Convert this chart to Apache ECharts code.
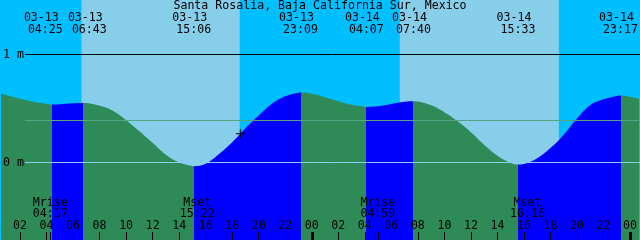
<!DOCTYPE html>
<html><head><meta charset="utf-8">
<script src="https://cdn.jsdelivr.net/npm/echarts@6/dist/echarts.min.js"></script>
<style>html,body{margin:0;padding:0;background:#00BFFF;overflow:hidden}#main{width:640px;height:240px}</style>
</head><body><div id="main"></div>
<script>
// ---- data (hours counted from 03-13 00:00 local time) ----
const title = 'Santa Rosalia, Baja California Sur, Mexico';
const tideHours = [0,1,2,3,4,5,6,7,8,9,10,11,12,13,14,15,16,17,18,19,20,21,22,23,24,25,26,27,28,29,30,31,32,33,34,35,36,37,38,39,40,41,42,43,44,45,46,47,48,49];
const tideLevels = [0.656,0.623,0.591,0.563,0.544,0.540,0.549,0.550,0.526,0.480,0.392,0.290,0.183,0.072,0.001,-0.032,-0.012,0.078,0.188,0.318,0.435,0.544,0.614,0.646,0.637,0.605,0.568,0.535,0.517,0.521,0.542,0.562,0.564,0.530,0.466,0.382,0.281,0.165,0.063,-0.004,-0.014,0.040,0.134,0.258,0.408,0.531,0.586,0.616,0.609,0.581];
const eventHours = [4.417, 6.717, 15.1, 23.15, 28.117, 31.667, 39.55, 47.283];
const eventLevels = [0.537, 0.552, -0.034, 0.648, 0.515, 0.567, -0.019, 0.620];
const eventKinds = ['low','high','low','high','low','high','low','high'];
const eventDates = ['03-13','03-13','03-13','03-13','03-14','03-14','03-14','03-14'];
const eventTimes = ['04:25','06:43','15:06','23:09','04:07','07:40','15:33','23:17'];
const moonHours = [4.283, 15.367, 28.983, 40.267];
const moonNames = ['Mrise','Mset','Mrise','Mset'];
const moonTimes = ['04:17','15:22','04:59','16:16'];
const sunriseHours = [6.633, 30.633];
const sunsetHours = [18.567, 42.633];
const tickHours = [2,4,6,8,10,12,14,16,18,20,22,24,26,28,30,32,34,36,38,40,42,44,46,48];
const tickLabels = ['02','04','06','08','10','12','14','16','18','20','22','00','02','04','06','08','10','12','14','16','18','20','22','00'];
const midnightHours = [24, 48];
const datumLevels = [0, 1];
const datumLabels = ['0 m', '1 m'];
const meanLevel = 0.389;
const nowPoint = [18.62, 0.268];
const windowStart = 0.64, windowEnd = 48.64;
const levelMin = -0.71759, levelMax = 1.50463;

// ---- build ----
const FONT = '"DejaVu Sans Mono", "Liberation Mono", monospace';
const FS = 11.6;
const tidePoints = tideHours.map((h, i) => [h, tideLevels[i]])
  .concat(eventHours.map((h, i) => [h, eventLevels[i]]))
  .sort((a, b) => a[0] - b[0]);
const floodRanges = [];
eventHours.forEach((h, i) => {
  if (eventKinds[i] === 'low' && i + 1 < eventHours.length) floodRanges.push([h, eventHours[i + 1]]);
});
const dayRanges = sunriseHours.map((h, i) => [h, sunsetHours[i]]);

const chart = echarts.init(document.getElementById('main'), null, {renderer: 'canvas'});
const option = {
  animation: false,
  backgroundColor: '#00BFFF',
  grid: [
    {left: 0, right: 0, top: 0, bottom: 0},
    {left: 25, right: 0, top: 0, bottom: 0}
  ],
  xAxis: [
    {gridIndex: 0, type: 'value', min: windowStart, max: windowEnd, position: 'bottom', z: 20,
     axisLine: {show: false, onZero: false}, splitLine: {show: false},
     axisTick: {inside: true, length: 8, lineStyle: {color: '#000', width: 1}, customValues: tickHours.concat(moonHours)},
     axisLabel: {inside: true, customValues: tickHours, margin: 14, verticalAlign: 'middle', color: '#000',
       fontFamily: FONT, fontSize: FS, formatter: v => tickLabels[tickHours.indexOf(v)]}},
    {gridIndex: 0, type: 'value', min: windowStart, max: windowEnd, position: 'bottom', offset: 0, z: 20,
     axisLine: {show: false, onZero: false}, splitLine: {show: false}, axisLabel: {show: false},
     axisTick: {inside: true, length: 8, lineStyle: {color: '#000', width: 3}, customValues: midnightHours}},
    {gridIndex: 1, type: 'value', min: windowStart, max: windowEnd, show: false}
  ],
  yAxis: [
    {gridIndex: 0, type: 'value', min: levelMin, max: levelMax, z: 20,
     axisLine: {show: false, onZero: false}, axisTick: {show: false}, splitLine: {show: false},
     axisLabel: {inside: true, customValues: datumLevels, margin: 1, verticalAlign: 'middle', align: 'left',
       color: '#000', fontFamily: FONT, fontSize: FS, formatter: v => datumLabels[datumLevels.indexOf(v)]}},
    {gridIndex: 1, type: 'value', min: levelMin, max: levelMax, show: false}
  ],
  visualMap: {
    type: 'piecewise', show: false, seriesIndex: 1, dimension: 0,
    pieces: floodRanges.map(r => ({gte: r[0], lte: r[1], color: '#0000FF'})),
    outOfRange: {color: '#2E8B57'}
  },
  series: [
    {type: 'line', xAxisIndex: 0, yAxisIndex: 0, data: [], z: 0, silent: true,
     markArea: {silent: true, itemStyle: {color: '#87CEEB'},
       data: dayRanges.map(r => [{xAxis: r[0]}, {xAxis: r[1]}])}},
    {type: 'line', xAxisIndex: 0, yAxisIndex: 0, data: tidePoints, smooth: 0.4, symbol: 'none', z: 2, silent: true,
     lineStyle: {width: 0, opacity: 0}, areaStyle: {opacity: 1, origin: 'start'}},
    {type: 'line', xAxisIndex: 2, yAxisIndex: 1, data: [], z: 5, silent: true,
     markLine: {silent: true, symbol: ['none', 'none'], label: {show: false}, animation: false,
       data: [
         {yAxis: 1, lineStyle: {color: '#000000', type: 'solid', width: 1}},
         {yAxis: 0, lineStyle: {color: '#87CEFA', type: 'solid', width: 1}},
         {yAxis: meanLevel, lineStyle: {color: '#55A585', type: 'solid', width: 1}}
       ]}},
    {type: 'scatter', xAxisIndex: 0, yAxisIndex: 0, data: [nowPoint], z: 10, silent: true,
     symbol: 'path://M0,5L10,5M5,0L5,10', symbolSize: 9,
     itemStyle: {color: 'none', borderColor: '#000', borderWidth: 1.3}}
  ]
};
chart.setOption(option);

const px = h => chart.convertToPixel({xAxisIndex: 0}, h);
const txt = (s, x, y) => ({type: 'text', x: x, y: y, silent: true, z: 100,
  style: {text: s, fill: '#000', font: FS + 'px ' + FONT, align: 'center', verticalAlign: 'middle'}});
// event label centres, pushed apart when they would collide
const xs = eventHours.map(px);
const minGap = 44;
for (let i = 0; i + 1 < xs.length; i++) {
  const d = xs[i + 1] - xs[i];
  if (d < minGap) { const s = (minGap - d) / 2; xs[i] -= s; xs[i + 1] += s; }
}
const W = chart.getWidth();
const graphics = [txt(title, W / 2, 6)];
xs.forEach((x, i) => {
  const cx = Math.min(x, W - 19.5);
  graphics.push(txt(eventDates[i], cx - 4, 18));
  graphics.push(txt(eventTimes[i], cx, 30));
});
moonHours.forEach((h, i) => {
  const x = px(h);
  graphics.push(txt(moonNames[i], x, 203));
  graphics.push(txt(moonTimes[i], x, 214.3));
});
chart.setOption({graphic: graphics});
</script>
</body></html>
